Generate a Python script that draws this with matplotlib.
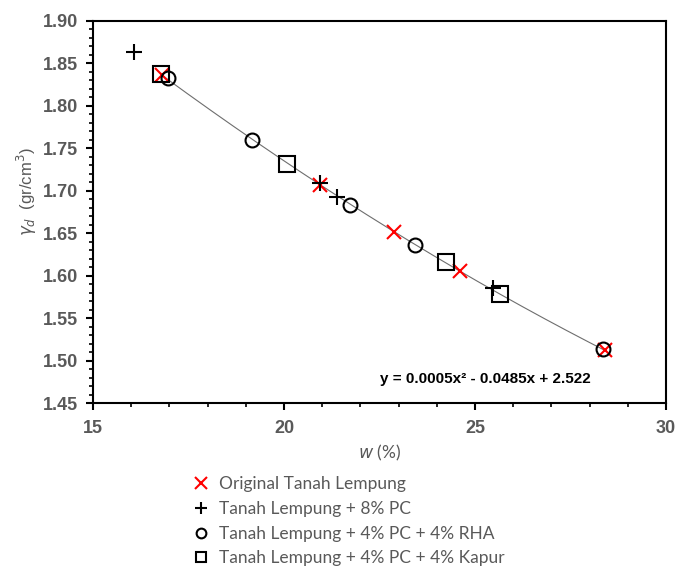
import numpy as np
import matplotlib
matplotlib.use('Agg')
import matplotlib.pyplot as plt
from matplotlib.ticker import MultipleLocator, FormatStrFormatter
from matplotlib.lines import Line2D

# data
w_orig = [16.81, 20.94, 22.89, 24.61, 28.40]
g_orig = [1.836, 1.707, 1.652, 1.605, 1.512]

w_pc = [16.06, 20.94, 21.40, 25.48]
g_pc = [1.863, 1.709, 1.693, 1.585]

w_rha = [16.97, 19.17, 21.73, 23.43, 28.34]
g_rha = [1.8325, 1.760, 1.683, 1.636, 1.514]

w_kap = [16.77, 20.09, 24.23, 25.65]
g_kap = [1.8376, 1.7315, 1.616, 1.579]

labels = ['Original Tanah Lempung', 'Tanah Lempung + 8% PC',
          'Tanah Lempung + 4% PC + 4% RHA', 'Tanah Lempung + 4% PC + 4% Kapur']
eq_text = 'y = 0.0005x² - 0.0485x + 2.522'

grey = '#595959'
plt.rcParams['font.family'] = ['Liberation Sans', 'DejaVu Sans']

fig = plt.figure(figsize=(6.88, 5.67), dpi=100)
ax = fig.add_axes([0.1352, 0.2892, 0.968 - 0.1352, 0.963 - 0.2892])

# trendline (quadratic fit on the original series)
coef = np.polyfit(w_orig, g_orig, 2)
xx = np.linspace(min(w_orig), max(w_orig), 200)
ax.plot(xx, np.polyval(coef, xx), color='#6e6e6e', lw=0.8, zorder=1)

ax.plot(w_orig, g_orig, 'x', color='red', ms=10, mew=1.5, ls='none', zorder=3)
ax.plot(w_pc, g_pc, '+', color='black', ms=11, mew=1.5, ls='none', zorder=3)
ax.plot(w_rha, g_rha, 'o', mfc='none', mec='black', ms=10, mew=1.5, ls='none', zorder=3)
ax.plot(w_kap, g_kap, 's', mfc='none', mec='black', ms=11, mew=1.5, ls='none', zorder=3)

ax.set_xlim(15, 30)
ax.set_ylim(1.45, 1.90)
ax.xaxis.set_major_locator(MultipleLocator(5))
ax.xaxis.set_minor_locator(MultipleLocator(1))
ax.yaxis.set_major_locator(MultipleLocator(0.05))
ax.yaxis.set_minor_locator(MultipleLocator(0.01))
ax.yaxis.set_major_formatter(FormatStrFormatter('%.2f'))
ax.tick_params(which='major', direction='out', length=5, width=1.5, colors='black',
               labelcolor=grey, labelsize=13, pad=6)
ax.tick_params(which='minor', direction='out', length=3, width=1.2, colors='black')
ax.tick_params(axis='x', pad=7)
for s in ax.spines.values():
    s.set_linewidth(1.5)
    s.set_color('black')

ax.set_ylabel(r'$\gamma_d$  (gr/cm$^3$)', color=grey, fontsize=12)
ax.yaxis.set_label_coords(-0.094, 0.552)
ax.set_xlabel(r'$w$ (%)', color=grey, fontsize=12.5,
              fontfamily=['Lato', 'DejaVu Sans'])
ax.xaxis.set_label_coords(0.5, -0.105)

ax.text(0.684, 0.063, eq_text, transform=ax.transAxes, ha='center', va='center',
        fontsize=11, fontweight='bold', color='black')

handles = [
    Line2D([], [], marker='x', color='red', ms=9, mew=1.5, ls='none'),
    Line2D([], [], marker='+', color='black', ms=9, mew=1.5, ls='none'),
    Line2D([], [], marker='o', mfc='none', mec='black', ms=7, mew=1.5, ls='none'),
    Line2D([], [], marker='s', mfc='none', mec='black', ms=7, mew=1.5, ls='none'),
]
leg = fig.legend(handles, labels, loc='upper left', bbox_to_anchor=(0.27, 0.172),
                 frameon=False, handlelength=1.0, handletextpad=0.5,
                 labelspacing=0.5, borderaxespad=0,
                 prop={'family': ['Lato', 'DejaVu Sans'], 'size': 12.5})
for t in leg.get_texts():
    t.set_color(grey)

fig.canvas.draw()
for lab in ax.get_xticklabels() + ax.get_yticklabels():
    lab.set_fontweight('bold')

fig.savefig('out.png', dpi=100)
